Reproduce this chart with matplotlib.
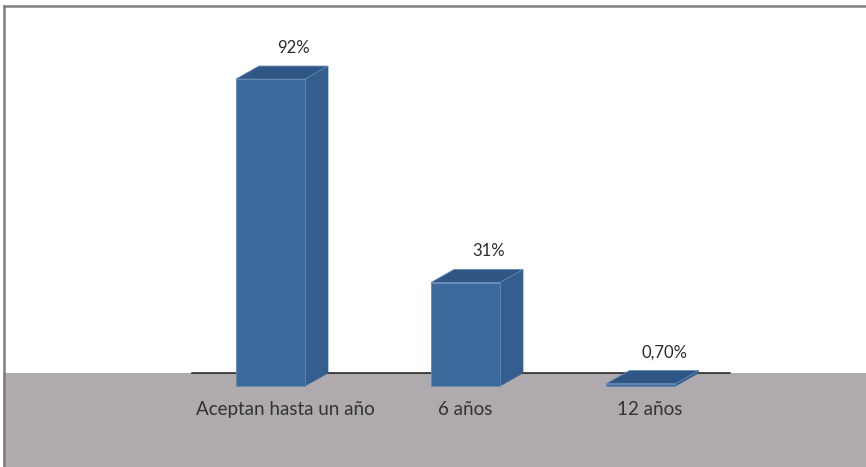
import matplotlib
matplotlib.use("Agg")
import matplotlib.pyplot as plt
from matplotlib.patches import Polygon, Rectangle

categories = ["Aceptan hasta un año", "6 años", "12 años"]
values = [92, 31, 0.7]
value_labels = ["92%", "31%", "0,70%"]

# layout (axis units)
bar_pos = [0, 1, 1.9]
label_dx = [0.075, 0.0, 0.045]
half_w = 0.177
dx, dy = 0.118, 3.9

FRONT = "#3c6a9d"
SIDE = "#345e8e"
TOP = "#2f5684"
EDGE = "#6288b3"
FLOOR = "#aeaaad"

plt.rcParams['font.family'] = ['Lato', 'DejaVu Sans']

fig = plt.figure(figsize=(8.66, 4.67), dpi=100)
ax = fig.add_axes([0, 0, 1, 1])
ax.set_xlim(-1.387, 3.054)
ax.set_ylim(-24.3, 115.7)
ax.axis("off")

# floor
ax.add_patch(Rectangle((-1.37, -30), 5, 30 + dy, facecolor=FLOOR, edgecolor="none", zorder=1))
ax.plot([-0.40, 2.356], [dy, dy], color="#1a1a1a", lw=1.1, zorder=2)

for x, v in zip(bar_pos, values):
    l, r = x - half_w, x + half_w
    front = Polygon([(l, 0), (r, 0), (r, v), (l, v)], closed=True,
                    facecolor=FRONT, edgecolor=EDGE, lw=0.6, zorder=4)
    side = Polygon([(r, 0), (r + dx, dy), (r + dx, v + dy), (r, v)], closed=True,
                   facecolor=SIDE, edgecolor=SIDE, lw=0.5, zorder=3)
    top = Polygon([(l, v), (r, v), (r + dx, v + dy), (l + dx, v + dy)], closed=True,
                  facecolor=TOP, edgecolor=EDGE, lw=0.6, zorder=5)
    for p in (side, front, top):
        ax.add_patch(p)

for x, v, lab in zip(bar_pos, values, value_labels):
    ax.text(x + 0.12, v + dy + 5.5, lab, ha="center", va="center",
            fontsize=12, color="#2b2b2b", zorder=6)

for x, off, cat in zip(bar_pos, label_dx, categories):
    ax.text(x + off, -7.2, cat, ha="center", va="center",
            fontsize=13.5, color="#333333", zorder=6)

# frame lines (top and left)
fig.add_artist(plt.Line2D([0.005, 1], [0.988, 0.988], color="#7f7f7f", lw=1.8))
fig.add_artist(plt.Line2D([0.005, 0.005], [0, 0.988], color="#7f7f7f", lw=1.8))

fig.savefig("out.png", dpi=100)
